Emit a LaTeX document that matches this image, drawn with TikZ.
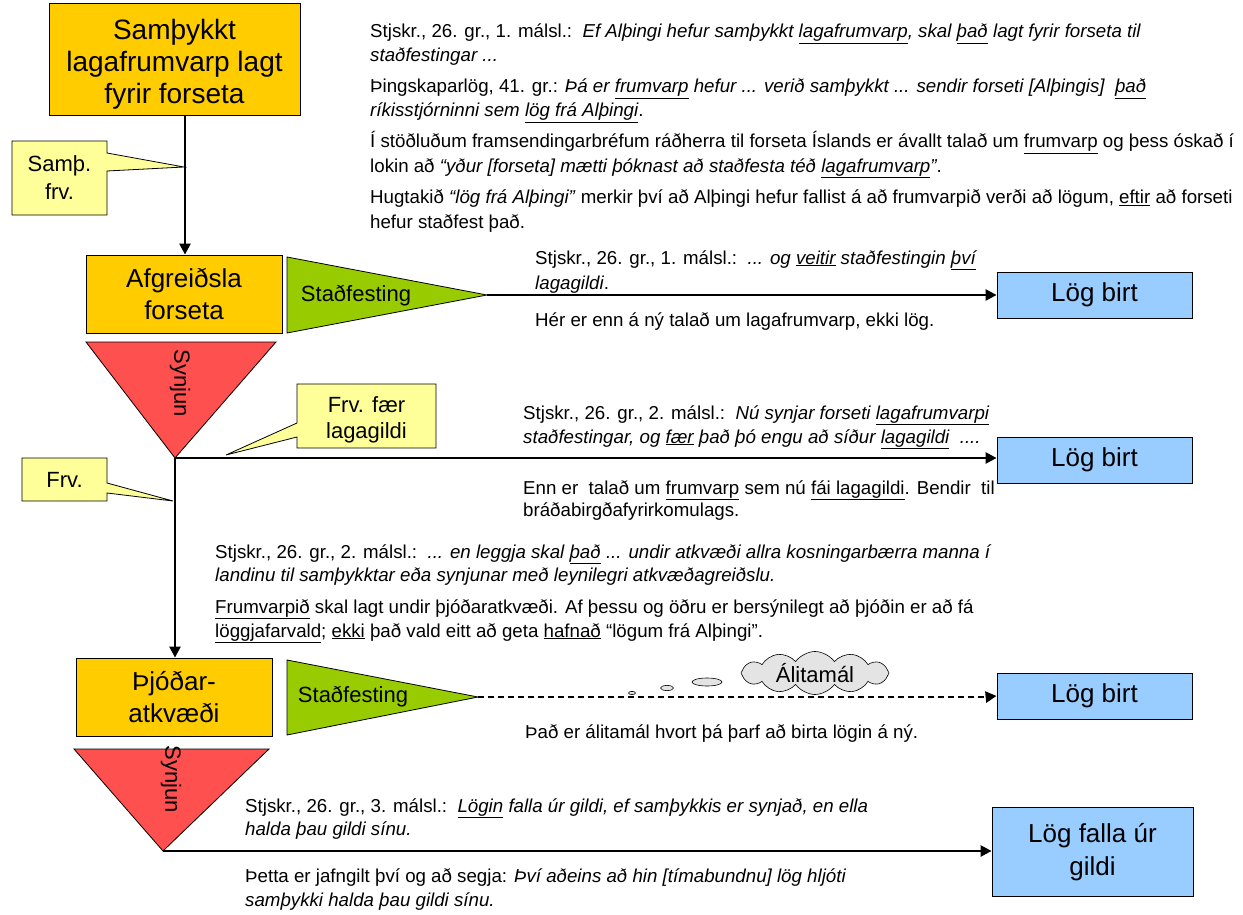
\documentclass[tikz,border=0pt]{standalone}
\usepackage{fontspec}
\setmainfont{Liberation Sans}
\usetikzlibrary{shapes.symbols,arrows.meta}
\definecolor{orng}{HTML}{FFCC00}
\definecolor{grn}{HTML}{99CC00}
\definecolor{rd}{HTML}{FF5050}
\definecolor{blu}{HTML}{99CCFF}
\definecolor{ylw}{HTML}{FFFF99}
\definecolor{cld}{HTML}{E4E4E4}
\tikzset{
  orbox/.style={draw, fill=orng, line width=0.8pt, align=center, inner sep=0pt, font=\fontsize{26}{32}\selectfont},
  blbox/.style={draw, fill=blu, line width=0.8pt, align=center, inner sep=0pt, font=\fontsize{26}{33}\selectfont},
  callout/.style={draw, fill=ylw, line width=0.8pt},
  ctext/.style={align=center, inner sep=0pt, font=\fontsize{22}{28}\selectfont},
  tri/.style={draw, line width=0.8pt},
  tritext/.style={inner sep=0pt, font=\fontsize{22}{26}\selectfont},
  ln/.style={anchor=base west, inner sep=0pt, font=\fontsize{18.7}{22}\selectfont},
  conn/.style={line width=2.4pt, -{Triangle[length=11pt,width=11pt]}},
}
\begin{document}
\begin{tikzpicture}[x=1pt,y=-1pt]
\useasboundingbox (0,0) rectangle (1243,915);
% main boxes
\node[orbox, minimum width=251pt, minimum height=112pt] (b1) at (174.5,59) {};
\node[align=center, inner sep=0pt, font=\fontsize{28}{32}\selectfont] (b1t) at (174.5,64) {Samþykkt\\lagafrumvarp lagt\\fyrir forseta};
\node[orbox, minimum width=196pt, minimum height=78pt] (b2) at (184,294) {Afgreiðsla\\forseta};
\node[orbox, minimum width=196pt, minimum height=78pt] (b3) at (174,697) {Þjóðar-\\atkvæði};
\node[blbox, minimum width=195pt, minimum height=46pt] (l1) at (1094.5,295) {Lög birt};
\node[blbox, minimum width=195pt, minimum height=46pt] (l2) at (1094.5,460) {Lög birt};
\node[blbox, minimum width=195pt, minimum height=46pt] (l3) at (1094.5,696) {Lög birt};
\node[blbox, minimum width=201pt, minimum height=89pt] (l4) at (1092.5,852) {Lög falla úr\\gildi};
% green triangles
\draw[tri, fill=grn] (287,257) -- (487,295) -- (287,333) -- cycle;
\coordinate (g1) at (487,295);
\node[tritext] (g1t) at (356,296) {Staðfesting};
\draw[tri, fill=grn] (287,660) -- (478,697) -- (287,735) -- cycle;
\coordinate (g2) at (478,697);
\node[tritext] (g2t) at (353,697) {Staðfesting};
% red triangles
\draw[tri, fill=rd] (86,342) -- (276,342) -- (175,458) -- cycle;
\coordinate (r1) at (175,458);
\node[tritext, rotate=-90] (r1t) at (180,383) {Synjun};
\draw[tri, fill=rd] (74,749) -- (269,749) -- (163,851) -- cycle;
\coordinate (r2) at (163,851);
\node[tritext, rotate=-90] (r2t) at (171,779) {Synjun};
% connectors
\draw[conn] (b1.south -| 185,0) -- (b2.north -| 185,0);
\draw[conn] (g1) -- (l1.west);
\draw[conn] (r1) -- (b3.north -| r1);
\draw[conn] (r1) -- (l2.west |- r1);
\coordinate (dend) at (986,697);
\draw[line width=2.4pt, dash pattern=on 6pt off 4pt] (g2) -- (dend);
\draw[-{Triangle[length=11pt,width=11pt]}, line width=2.4pt] (dend) -- (l3.west);
\draw[conn] (r2) -- (l4.west |- r2);
% callouts
\draw[callout] (12,141) -- (107,141) -- (107,153) -- (184,167) -- (107,171) -- (107,215) -- (12,215) -- cycle;
\node[ctext] (c1) at (59.5,178) {Samþ.\\frv.};
\draw[callout] (297,384) -- (436,384) -- (436,448) -- (297,448) -- (297,437) -- (226,455) -- (297,423) -- cycle;
\node[ctext, font=\fontsize{22}{26}\selectfont] (c2) at (366.5,420) {Frv. fær\\lagagildi};
\draw[callout] (22,458) -- (107,458) -- (107,483) -- (173,501) -- (107,493) -- (107,501) -- (22,501) -- cycle;
\node[ctext] (c3) at (64.5,479.5) {Frv.};
% cloud
\node[draw, fill=cld, cloud, cloud puffs=12, cloud puff arc=110, aspect=3.8, minimum width=148pt, minimum height=40pt, inner sep=0pt, line width=0.6pt, font=\fontsize{22}{26}\selectfont] (cl) at (815,673) {Álitamál};
\draw[fill=cld, line width=0.6pt] (632,693) ellipse (3.5pt and 1.6pt);
\draw[fill=cld, line width=0.6pt] (667,688) ellipse (6.5pt and 2.6pt);
\draw[fill=cld, line width=0.6pt] (707,682) ellipse (15pt and 4pt);
% top text
\node[ln] (t1) at (370,38) {Stjskr., 26. gr., 1. málsl.:\ \ \textit{Ef Alþingi hefur samþykkt \underline{lagafrumvarp}, skal \underline{það} lagt fyrir forseta til}};
\node[ln] (t2) at (370,62) {\textit{staðfestingar ...}};
\node[ln] (t3) at (370,93) {Þingskaparlög, 41. gr.: \textit{Þá er \underline{frumvarp} hefur ... verið samþykkt ... sendir forseti [Alþingis]\ \ \underline{það}}};
\node[ln] (t4) at (370,117) {\textit{ríkisstjórninni sem \underline{lög frá Alþingi}}.};
\node[ln] (t5) at (370,148) {Í stöðluðum framsendingarbréfum ráðherra til forseta Íslands er ávallt talað um \underline{frumvarp} og þess óskað í};
\node[ln] (t6) at (370,172) {lokin að \textit{“yður [forseta] mætti þóknast að staðfesta téð \underline{lagafrumvarp}”}.};
\node[ln] (t7) at (370,204) {Hugtakið \textit{“lög frá Alþingi”} merkir því að Alþingi hefur fallist á að frumvarpið verði að lögum, \underline{eftir} að forseti};
\node[ln] (t8) at (370,228) {hefur staðfest það.};
% staðfesting text
\node[ln] (s1) at (535,264) {Stjskr., 26. gr., 1. málsl.:\ \ \textit{... og \underline{veitir} staðfestingin \underline{því}}};
\node[ln] (s2) at (535,289) {\textit{\underline{lagagildi}}.};
\node[ln] (s3) at (535,326) {Hér er enn á ný talað um lagafrumvarp, ekki lög.};
% synjun text
\node[ln] (m1) at (523,419) {Stjskr., 26. gr., 2. málsl.:\ \ \textit{Nú synjar forseti \underline{lagafrumvarpi}}};
\node[ln] (m2) at (523,443) {\textit{staðfestingar, og \underline{fær} það þó engu að síður \underline{lagagildi}\ \ ....}};
\node[ln] (m3) at (523,494) {Enn er\ \ talað um \underline{frumvarp} sem nú \underline{fái lagagildi}. Bendir\ \ til};
\node[ln] (m4) at (523,516) {bráðabirgðafyrirkomulags.};
% middle text
\node[ln] (p1) at (215,558) {Stjskr., 26. gr., 2. málsl.:\ \ \textit{... en leggja skal \underline{það} ... undir atkvæði allra kosningarbærra manna í}};
\node[ln] (p2) at (215,581) {\textit{landinu til samþykktar eða synjunar með leynilegri atkvæðagreiðslu.}};
\node[ln] (p3) at (215,613) {\underline{Frumvarpið} skal lagt undir þjóðaratkvæði. Af þessu og öðru er bersýnilegt að þjóðin er að fá};
\node[ln] (p4) at (215,637) {\underline{löggjafarvald}; \underline{ekki} það vald eitt að geta \underline{hafnað} “lögum frá Alþingi”.};
% alitamal text
\node[ln] (a1) at (525,738) {Það er álitamál hvort þá þarf að birta lögin á ný.};
% bottom text
\node[ln] (u1) at (245,812) {Stjskr., 26. gr., 3. málsl.:\ \ \textit{\underline{Lögin} falla úr gildi, ef samþykkis er synjað, en ella}};
\node[ln] (u2) at (245,835) {\textit{halda þau gildi sínu.}};
\node[ln] (u3) at (245,882) {Þetta er jafngilt því og að segja: \textit{Því aðeins að hin [tímabundnu] lög hljóti}};
\node[ln] (u4) at (245,906) {\textit{samþykki halda þau gildi sínu.}};
\end{tikzpicture}
\end{document}
